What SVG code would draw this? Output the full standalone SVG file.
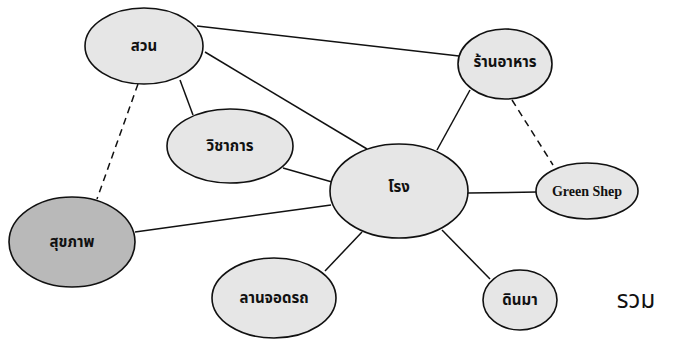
<svg xmlns="http://www.w3.org/2000/svg" width="681" height="343" viewBox="0 0 681 343">
<style>
.node{fill:#e6e6e6;stroke:#111;stroke-width:1.6}
.dark{fill:#b9b9b9;stroke:#111;stroke-width:1.6}
.lbl{font-family:"Noto Sans Thai","Liberation Sans","DejaVu Sans",sans-serif;font-size:15px;font-weight:bold;fill:#111;text-anchor:middle;dominant-baseline:central}
.en{font-family:"Liberation Serif",serif;font-size:14px;font-weight:bold;fill:#111;text-anchor:middle;dominant-baseline:central}
.edge{stroke:#111;stroke-width:1.5;fill:none}
.dash{stroke-dasharray:7 5}
</style>
<rect width="681" height="343" fill="#ffffff"/>
<g id="connectors">
<line class="edge" x1="197" y1="26" x2="459" y2="56"/>
<line class="edge" x1="205" y1="52" x2="367" y2="149"/>
<line class="edge" x1="180" y1="80" x2="193" y2="115"/>
<line class="edge" x1="283" y1="168" x2="332" y2="182"/>
<line class="edge dash" x1="138" y1="84" x2="97" y2="199"/>
<line class="edge" x1="135" y1="232" x2="331" y2="205"/>
<line class="edge" x1="470" y1="90" x2="437" y2="150"/>
<line class="edge dash" x1="512" y1="100" x2="553" y2="165"/>
<line class="edge" x1="468" y1="193" x2="537" y2="192"/>
<line class="edge" x1="362" y1="232" x2="325" y2="271"/>
<line class="edge" x1="442" y1="230" x2="490" y2="279"/>
</g>
<g id="suan"><ellipse class="node" cx="144" cy="46" rx="59" ry="38"/><text class="lbl" x="144" y="46">สวน</text></g>
<g id="wichakan"><ellipse class="node" cx="230" cy="146" rx="63" ry="37"/><text class="lbl" x="230" y="146">วิชาการ</text></g>
<g id="ranahan"><ellipse class="node" cx="505" cy="64" rx="47" ry="35"/><text class="lbl" x="505" y="62">ร้านอาหาร</text></g>
<g id="rong"><ellipse class="node" cx="399" cy="191" rx="69" ry="47"/><text class="lbl" x="399" y="187">โรง</text></g>
<g id="greenshep"><ellipse class="node" cx="587" cy="191" rx="51" ry="28"/><text class="en" x="587" y="191">Green Shep</text></g>
<g id="sukhaphap"><ellipse class="dark" cx="72" cy="242" rx="63" ry="45"/><text class="lbl" x="72" y="242">สุขภาพ</text></g>
<g id="lanjodrot"><ellipse class="node" cx="274" cy="298" rx="62" ry="40"/><text class="lbl" x="274" y="298">ลานจอดรถ</text></g>
<g id="dinma"><ellipse class="node" cx="520" cy="300" rx="37" ry="30"/><text class="lbl" x="520" y="300">ดินมา</text></g>
<text class="lbl" x="636" y="301" style="font-weight:normal;font-size:24px;font-family:'Noto Sans Thai','Liberation Serif',serif">รวม</text>
</svg>
